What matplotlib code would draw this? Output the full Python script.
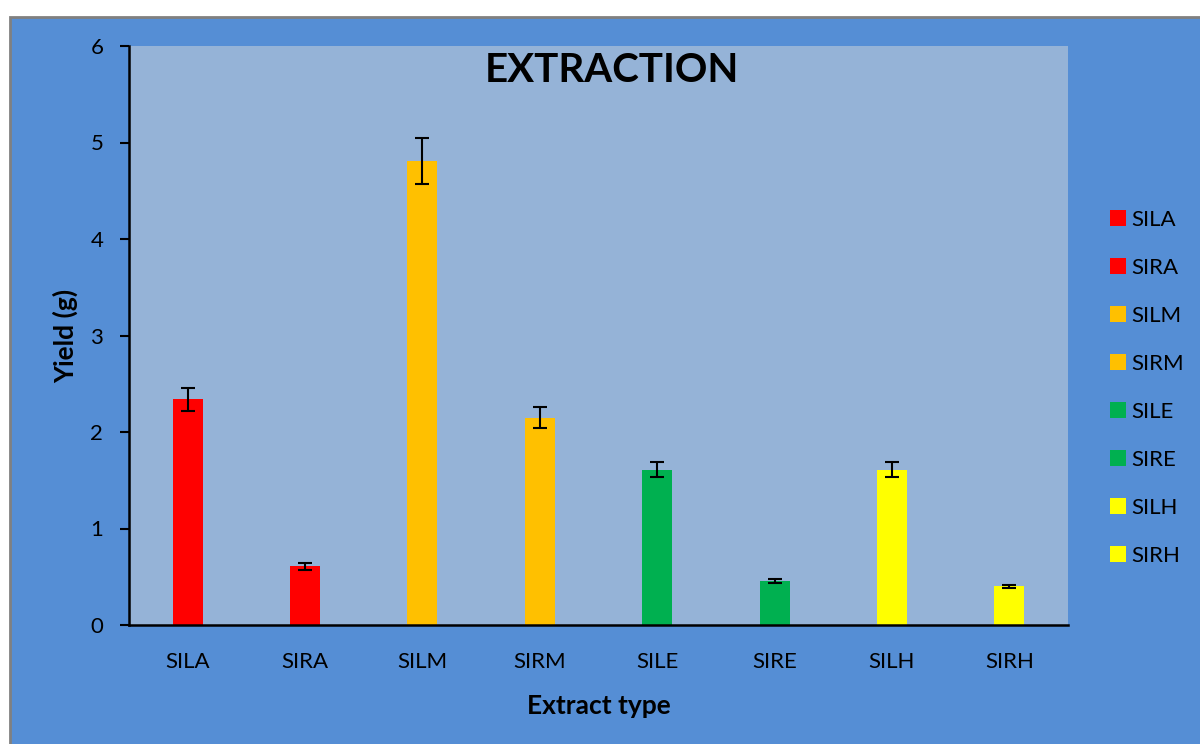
import matplotlib
matplotlib.use("Agg")
import matplotlib.pyplot as plt
from matplotlib.patches import Rectangle

categories = ["SILA", "SIRA", "SILM", "SIRM", "SILE", "SIRE", "SILH", "SIRH"]
values = [2.34, 0.61, 4.81, 2.15, 1.61, 0.456, 1.61, 0.40]
errors = [0.12, 0.035, 0.24, 0.11, 0.075, 0.02, 0.075, 0.015]
colors = ["#FF0000", "#FF0000", "#FFC000", "#FFC000", "#00B050", "#00B050", "#FFFF00", "#FFFF00"]
yticks = [0, 1, 2, 3, 4, 5, 6]

plt.rcParams['font.family'] = ['Lato', 'DejaVu Sans']

W, H = 1200, 744
fig = plt.figure(figsize=(12, 7.44), dpi=100, facecolor="white")
# chart area background with grey border
bg = fig.add_axes([0, 0, 1, 1], zorder=-10)
bg.set_xlim(0, W)
bg.set_ylim(0, H)
bg.axis("off")
bg.add_patch(Rectangle((9.5, -5), W + 10, H - 16.5 + 5, facecolor="#558ED5",
                       edgecolor="#808080", linewidth=2))

ax = fig.add_axes([129 / W, (H - 625) / H, (1068 - 129) / W, (625 - 46) / H])
ax.set_facecolor("#95B3D7")

x = list(range(len(categories)))
for i in x:
    ax.bar(i, values[i], width=0.256, color=colors[i], label=categories[i], zorder=2)
    ax.errorbar(i, values[i], yerr=errors[i], fmt="none", ecolor="black",
                elinewidth=1.5, capsize=5, capthick=1.5, zorder=3)

ax.set_xlim(-0.5, len(categories) - 0.5)
ax.set_ylim(0, 6)
ax.set_yticks(yticks)
ax.set_yticklabels([str(t) for t in yticks], fontsize=16)
ax.set_xticks(x)
ax.set_xticklabels(categories, fontsize=16)
ax.tick_params(axis="x", length=0, pad=19.5)
ax.tick_params(axis="y", length=6.5, width=1.5, direction="out", pad=12)
for s in ["top", "right"]:
    ax.spines[s].set_visible(False)
for s in ["left", "bottom"]:
    ax.spines[s].set_linewidth(1.8)
    ax.spines[s].set_color("black")

ax.set_ylabel("Yield (g)", fontsize=19, fontweight="bold", labelpad=9)
ax.set_xlabel("Extract type", fontsize=19, fontweight="bold", labelpad=15.5)
ax.text(0.514, 0.958, "EXTRACTION", transform=ax.transAxes, ha="center", va="center",
        fontsize=29, fontweight="bold")

leg = fig.legend(loc="center left", bbox_to_anchor=(1090 / W, (H - 388) / H),
                 frameon=False, fontsize=16, handlelength=0.72, handleheight=0.72,
                 handletextpad=0.22, labelspacing=1.26)

fig.savefig("out.png", dpi=100, facecolor=fig.get_facecolor())
